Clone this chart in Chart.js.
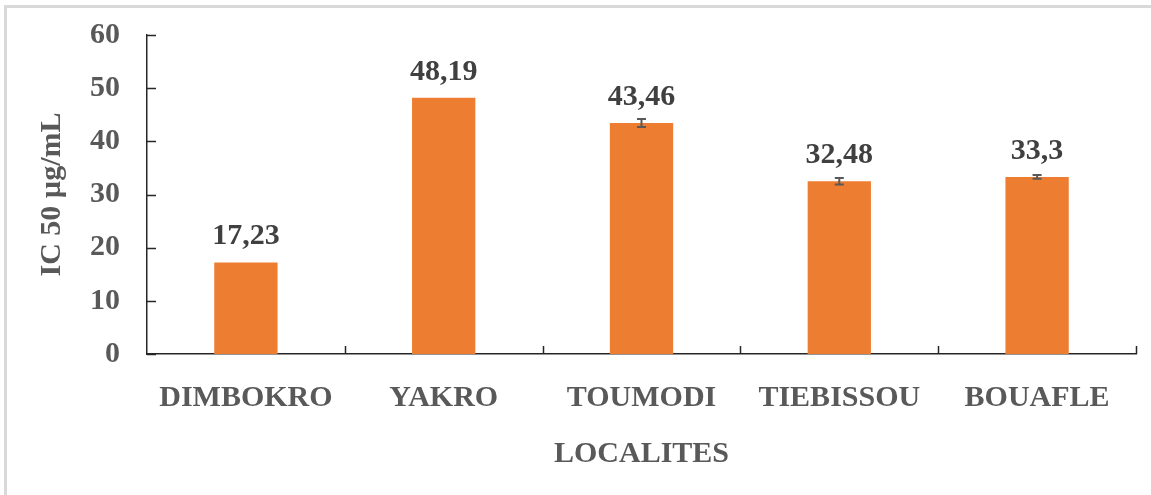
<!DOCTYPE html>
<html>
<head>
<meta charset="utf-8">
<script src="https://cdn.jsdelivr.net/npm/chart.js@4/dist/chart.umd.min.js"></script>
<style>
  html, body { margin: 0; padding: 0; background: #fff; }
  #wrap { position: relative; width: 1151px; height: 495px; }
  #frame { position: absolute; left: 4px; top: 5px; right: 0; bottom: 0;
           border-left: 3px solid #d9d9d9; border-top: 3px solid #d9d9d9; pointer-events: none; }
  canvas { position: absolute; left: 0; top: 0; }
</style>
</head>
<body>
<div id="wrap">
  <canvas id="c" width="1151" height="495"></canvas>
  <div id="frame"></div>
</div>
<script>
const categories = ['DIMBOKRO', 'YAKRO', 'TOUMODI', 'TIEBISSOU', 'BOUAFLE'];
const values = [17.23, 48.19, 43.46, 32.48, 33.3];
const errors = [0, 0, 0.75, 0.6, 0.35];
const yMin = 0, yMax = 60, yStep = 10;
const yTitle = 'IC 50 µg/mL';
const xTitle = 'LOCALITES';

const FONT = "'Liberation Serif', 'Times New Roman', serif";
const TEXT = '#595959';
const AXIS = '#262626';
const FS = 30;

const decorPlugin = {
  id: 'decor',
  afterDatasetsDraw(chart) {
    const ctx = chart.ctx;
    const xs = chart.scales.x, ys = chart.scales.y;
    const meta = chart.getDatasetMeta(0);
    ctx.save();
    // error bars
    ctx.strokeStyle = '#595959';
    ctx.lineWidth = 2;
    meta.data.forEach((bar, i) => {
      const e = errors[i];
      if (!e) return;
      const yTop = ys.getPixelForValue(values[i] + e);
      const yBot = ys.getPixelForValue(values[i] - e);
      const x = bar.x;
      ctx.beginPath();
      ctx.moveTo(x, yTop); ctx.lineTo(x, yBot);
      ctx.moveTo(x - 4.5, yTop); ctx.lineTo(x + 4.5, yTop);
      ctx.moveTo(x - 4.5, yBot); ctx.lineTo(x + 4.5, yBot);
      ctx.stroke();
    });
    // value labels
    ctx.fillStyle = '#404040';
    ctx.font = "bold " + FS + "px " + FONT;
    ctx.textAlign = 'center';
    ctx.textBaseline = 'alphabetic';
    meta.data.forEach((bar, i) => {
      const label = String(values[i]).replace('.', ',');
      ctx.fillText(label, bar.x, ys.getPixelForValue(values[i]) - 18);
    });
    // inward tick marks
    ctx.strokeStyle = AXIS;
    ctx.lineWidth = 1.5;
    ctx.beginPath();
    ys.ticks.forEach(t => {
      const y = Math.round(ys.getPixelForValue(t.value)) + 0.5;
      ctx.moveTo(chart.chartArea.left, y);
      ctx.lineTo(chart.chartArea.left + 9, y);
    });
    for (let i = 1; i <= categories.length; i++) {
      const x = Math.round(xs.getPixelForValue(i - 0.5)) + 0.5;
      ctx.moveTo(x, chart.chartArea.bottom);
      ctx.lineTo(x, chart.chartArea.bottom - 8);
    }
    ctx.stroke();
    ctx.restore();
  }
};

new Chart(document.getElementById('c'), {
  type: 'bar',
  data: {
    labels: categories,
    datasets: [{
      data: values,
      backgroundColor: '#ED7D31',
      borderWidth: 0,
      categoryPercentage: 1,
      barPercentage: 0.32
    }]
  },
  options: {
    responsive: false,
    animation: false,
    devicePixelRatio: 1,
    layout: { padding: { left: 0, right: 15, top: 35, bottom: 0 } },
    plugins: { legend: { display: false }, tooltip: { enabled: false } },
    scales: {
      x: {
        grid: { display: false, drawTicks: false },
        border: { display: true, color: AXIS, width: 1.5 },
        ticks: { color: TEXT, font: { family: FONT, size: FS, weight: 'bold' }, padding: 26 },
        title: { display: true, text: xTitle, color: TEXT,
                 font: { family: FONT, size: FS, weight: 'bold' }, padding: { top: 0, bottom: 23 } },
        afterFit(s) { s.height = 141; s.paddingLeft = 0; s.paddingRight = 0; }
      },
      y: {
        min: yMin, max: yMax,
        grid: { display: false, drawTicks: false },
        border: { display: true, color: AXIS, width: 1.5 },
        ticks: { stepSize: yStep, color: TEXT, font: { family: FONT, size: FS, weight: 'bold' }, padding: 27 },
        title: { display: true, text: yTitle, color: TEXT,
                 font: { family: FONT, size: FS, weight: 'bold' }, padding: { top: 34, bottom: 0 } },
        afterFit(s) { s.width = 147; s.paddingTop = 0; s.paddingBottom = 0; }
      }
    }
  },
  plugins: [decorPlugin]
});
</script>
</body>
</html>
